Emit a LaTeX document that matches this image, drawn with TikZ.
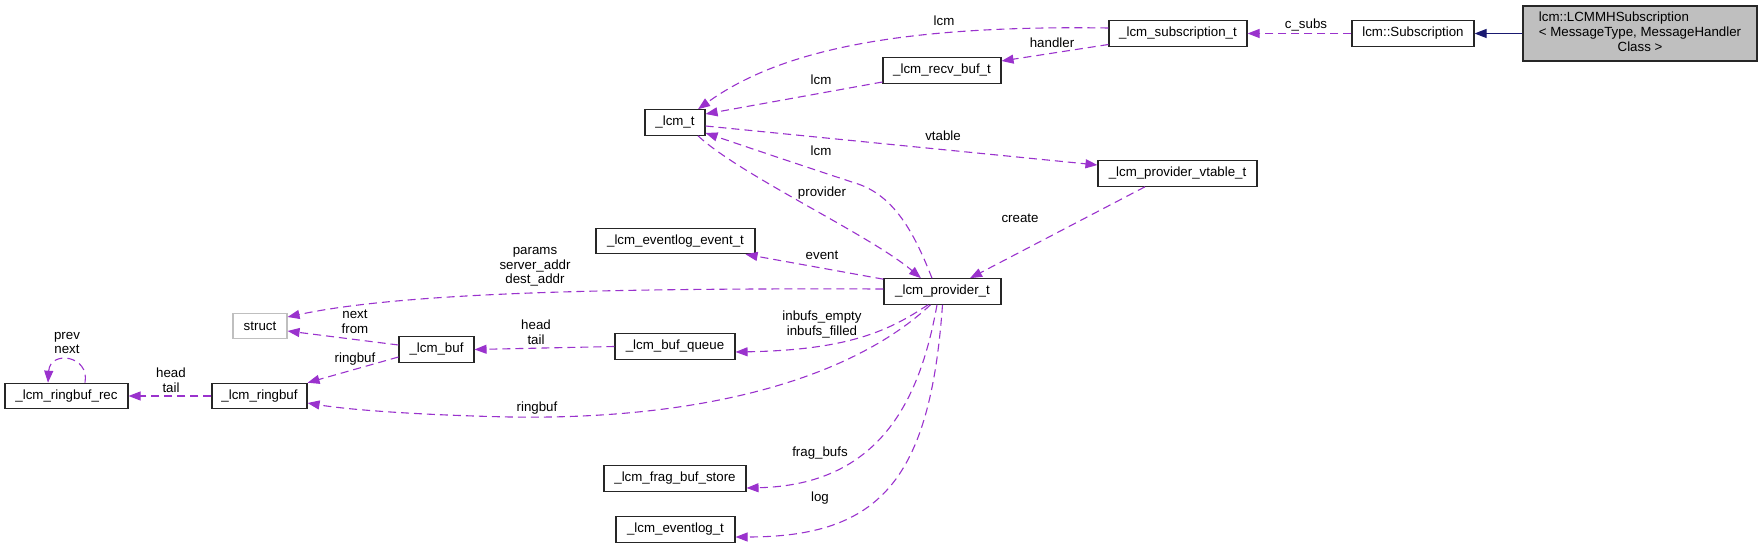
\documentclass[tikz,border=0pt]{standalone}
\usepackage{fontspec}
\setmainfont{Liberation Sans}
\usetikzlibrary{arrows.meta}
\definecolor{edgepurple}{HTML}{9A32CD}
\definecolor{inhblue}{HTML}{191970}
\definecolor{boxgray}{HTML}{BFBFBF}
\begin{document}
\begin{tikzpicture}[x=1pt,y=-1pt,
  every node/.style={font=\fontsize{13.3}{14.7}\selectfont},
  cls/.style={draw=black!85, line width=1.1pt, minimum height=25.5pt, inner sep=0pt, align=center},
  rel/.style={draw=edgepurple, line width=1.1pt, dash pattern=on 8pt off 5pt, -{Triangle[length=12pt,width=9pt]}},
  inh/.style={draw=inhblue, line width=1.1pt, -{Triangle[length=12pt,width=9pt]}},
  lbl/.style={inner sep=0pt, align=center}]
\useasboundingbox (0,0) rectangle (1764,548);

% classes
\node[cls, fill=boxgray, minimum width=234pt, minimum height=55pt] (mmh) at (1640,33.5)
  {\begin{tabular}{@{}l@{}}lcm::LCMMHSubscription\\< MessageType, MessageHandler\\\multicolumn{1}{@{}c@{}}{Class >}\end{tabular}};
\node[cls, minimum width=122pt] (sub) at (1413,33.5) {lcm::Subscription};
\node[cls, minimum width=138pt] (subt) at (1178,33.5) {\_lcm\_subscription\_t};
\node[cls, minimum width=118pt] (recv) at (942,70.5) {\_lcm\_recv\_buf\_t};
\node[cls, minimum width=60pt] (lcmt) at (675,122.5) {\_lcm\_t};
\node[cls, minimum width=159pt] (vtable) at (1177.5,173.5) {\_lcm\_provider\_vtable\_t};
\node[cls, minimum width=159pt] (evev) at (675.5,241) {\_lcm\_eventlog\_event\_t};
\node[cls, minimum width=117pt] (prov) at (942.5,291.5) {\_lcm\_provider\_t};
\node[cls, draw=boxgray, minimum width=54pt] (struct) at (260,326) {struct};
\node[cls, minimum width=75pt] (buf) at (436.5,349.5) {\_lcm\_buf};
\node[cls, minimum width=120pt] (bufq) at (675,346.5) {\_lcm\_buf\_queue};
\node[cls, minimum width=123pt] (rrec) at (66.5,396) {\_lcm\_ringbuf\_rec};
\node[cls, minimum width=95pt] (rbuf) at (259.5,396) {\_lcm\_ringbuf};
\node[cls, minimum width=142pt] (frag) at (675,478.5) {\_lcm\_frag\_buf\_store};
\node[cls, minimum width=119pt] (elog) at (675.5,529.5) {\_lcm\_eventlog\_t};

% inheritance
\draw[inh] (mmh) -- (sub);

% relations
\draw[rel] (sub) -- (subt);
\node[lbl] (lcsubs) at (1306,25) {c\_subs};

\draw[rel] ([yshift=5.5pt]subt.west) .. controls (900,25) and (780,50) .. ([xshift=23pt]lcmt.north);
\node[lbl] (llcm1) at (944,21) {lcm};

\draw[rel] ([yshift=-11pt]subt.west) -- ([yshift=9.5pt]recv.east);
\node[lbl] (lhandler) at (1052,43) {handler};

\draw[rel] ([yshift=-11.5pt]recv.west) -- ([yshift=8.5pt]lcmt.east);
\node[lbl] (llcm2) at (821,80) {lcm};

\draw[rel] ([yshift=-3.5pt]lcmt.east) -- ([yshift=8.5pt]vtable.west);
\node[lbl] (lvtable) at (943,136) {vtable};

\draw[rel] ([xshift=-10.5pt]prov.north) .. controls (915,235) and (895,195) .. (855,183)
  .. controls (800,165) and (750,148) .. ([yshift=-10.5pt]lcmt.east);
\node[lbl] (llcm3) at (821,151) {lcm};

\draw[rel] ([xshift=23pt]lcmt.south) .. controls (740,175) and (870,235) .. ([xshift=-21.5pt]prov.north);
\node[lbl] (lprovider) at (822,193) {provider};

\draw[rel] ([xshift=-32.5pt]vtable.south) -- ([xshift=27.5pt]prov.north);
\node[lbl] (lcreate) at (1020,218) {create};

\draw[rel] ([yshift=-1pt]prov.north west) -- ([xshift=-10pt]evev.south east);
\node[lbl] (levent) at (822,255) {event};

\draw[rel] ([yshift=2.5pt]prov.west) .. controls (600,288) and (400,293) .. ([yshift=9pt]struct.east);
\node[lbl] (lparams) at (535,267) {params\\server\_addr\\dest\_addr};

\draw[rel] ([yshift=4.5pt]buf.west) -- ([yshift=-5pt]struct.east);
\node[lbl] (lnext) at (355,321.5) {next\\from};

\draw[rel] ([yshift=-7.5pt]buf.west) -- (rbuf.north east);
\node[lbl] (lring1) at (355,359) {ringbuf};

\draw[rel] (bufq.west) -- (buf.east);
\node[lbl] (lht1) at (536,332.5) {head\\tail};

\draw[rel] ([xshift=-14.5pt]prov.south) .. controls (890,330) and (850,350) .. ([yshift=-5.5pt]bufq.east);
\node[lbl] (linbufs) at (822,324.5) {inbufs\_empty\\inbufs\_filled};

\draw[rel] ([xshift=-12pt]prov.south) .. controls (850,380) and (700,420) .. (510,417)
  .. controls (420,415) and (350,410) .. ([yshift=-7pt]rbuf.east);
\node[lbl] (lring2) at (537,408) {ringbuf};

\draw[rel] ([xshift=-5.5pt]prov.south) .. controls (920,400) and (880,485) .. ([yshift=-9.5pt]frag.east);
\node[lbl] (lfrag) at (820,453) {frag\_bufs};

\draw[rel] (prov.south) .. controls (930,480) and (880,537) .. ([yshift=-7.5pt]elog.east);
\node[lbl] (llog) at (820,498) {log};

\draw[rel] (rbuf.west) -- (rrec.east);
\node[lbl] (lht2) at (171,380) {head\\tail};

\draw[rel] ([xshift=18.5pt]rrec.north) .. controls (90,355) and (50,350) .. ([xshift=-18.5pt]rrec.north);
\node[lbl] (lprev) at (67,343) {prev\\next};
\end{tikzpicture}
\end{document}
